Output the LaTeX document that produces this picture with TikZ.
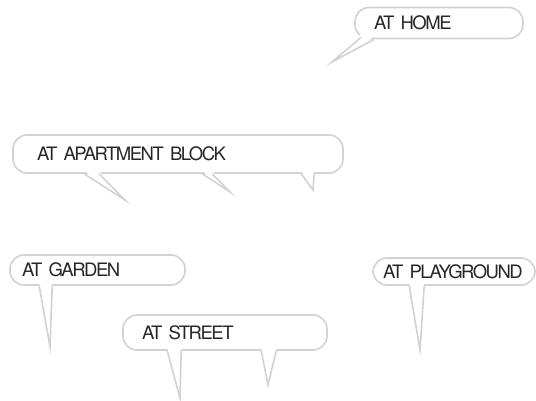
\documentclass[tikz,border=0pt]{standalone}
\usepackage{fontspec}
\setmainfont{TeX Gyre Heros}[LetterSpace=-8]
\usepackage{xcolor}
\usetikzlibrary{calc}

\newcommand{\bubblefont}{\fontsize{18.5}{20}\selectfont
  \fontdimen2\font=3.5pt\relax\fontdimen3\font=0pt\relax}

\tikzset{
  bubble/.style={draw=gray!35, line width=1.6pt, fill=white, rounded corners=14pt,
    inner ysep=0pt, align=left, text=black!85, font=\bubblefont},
  tailside/.style={draw=gray!35, line width=1.6pt, line join=miter},
}

\begin{document}
\begin{tikzpicture}[x=1pt,y=-1pt]
\useasboundingbox (0,0) rectangle (536,401);
% speech bubbles
\node[bubble, inner xsep=19pt, text width=130pt, minimum height=31pt] (home) at (439,23) {AT HOME};
\node[bubble, inner xsep=24pt, text width=282pt, minimum height=38pt] (apartment) at (178,154) {AT APARTMENT BLOCK};
\node[bubble, inner xsep=12pt, text width=151pt, minimum height=30pt] (garden) at (97.5,270) {AT GARDEN};
\node[bubble, inner xsep=19pt, text width=166pt, minimum height=35pt] (street) at (225,332.5) {AT STREET};
\node[bubble, inner xsep=10pt, text width=142pt, minimum height=27pt] (playground) at (454,271.5) {AT PLAYGROUND};
% tail tips
\coordinate (hometip) at (332,62);
\coordinate (apartmenttipa) at (125,200);
\coordinate (apartmenttipb) at (230,192);
\coordinate (apartmenttipc) at (313,190);
\coordinate (gardentip) at (50,347);
\coordinate (streettipa) at (180,398);
\coordinate (streettipb) at (268,385);
\coordinate (playgroundtip) at (420,350);
% tails
\fill[white] ([xshift=7pt,yshift=5pt]home.south west) -- (hometip) -- ([xshift=20pt,yshift=3pt]home.south west) -- cycle;
\draw[tailside] ([xshift=7pt,yshift=2pt]home.south west) -- (hometip) -- ([xshift=20pt]home.south west);
\fill[white] ([xshift=72pt,yshift=3pt]apartment.south west) -- (apartmenttipa) -- ([xshift=87pt,yshift=3pt]apartment.south west) -- cycle;
\draw[tailside] ([xshift=72pt]apartment.south west) -- (apartmenttipa) -- ([xshift=87pt]apartment.south west);
\fill[white] ([xshift=190pt,yshift=3pt]apartment.south west) -- (apartmenttipb) -- ([xshift=200pt,yshift=3pt]apartment.south west) -- cycle;
\draw[tailside] ([xshift=190pt]apartment.south west) -- (apartmenttipb) -- ([xshift=200pt]apartment.south west);
\fill[white] ([xshift=289pt,yshift=3pt]apartment.south west) -- (apartmenttipc) -- ([xshift=302pt,yshift=3pt]apartment.south west) -- cycle;
\draw[tailside] ([xshift=289pt]apartment.south west) -- (apartmenttipc) -- ([xshift=302pt]apartment.south west);
\fill[white] ([xshift=30pt,yshift=3pt]garden.south west) -- (gardentip) -- ([xshift=43pt,yshift=3pt]garden.south west) -- cycle;
\draw[tailside] ([xshift=30pt]garden.south west) -- (gardentip) -- ([xshift=43pt]garden.south west);
\fill[white] ([xshift=45pt,yshift=3pt]street.south west) -- (streettipa) -- ([xshift=59pt,yshift=3pt]street.south west) -- cycle;
\draw[tailside] ([xshift=45pt]street.south west) -- (streettipa) -- ([xshift=59pt]street.south west);
\fill[white] ([xshift=139pt,yshift=3pt]street.south west) -- (streettipb) -- ([xshift=154pt,yshift=3pt]street.south west) -- cycle;
\draw[tailside] ([xshift=139pt]street.south west) -- (streettipb) -- ([xshift=154pt]street.south west);
\fill[white] ([xshift=37pt,yshift=3pt]playground.south west) -- (playgroundtip) -- ([xshift=52pt,yshift=3pt]playground.south west) -- cycle;
\draw[tailside] ([xshift=37pt]playground.south west) -- (playgroundtip) -- ([xshift=52pt]playground.south west);
\end{tikzpicture}
\end{document}
